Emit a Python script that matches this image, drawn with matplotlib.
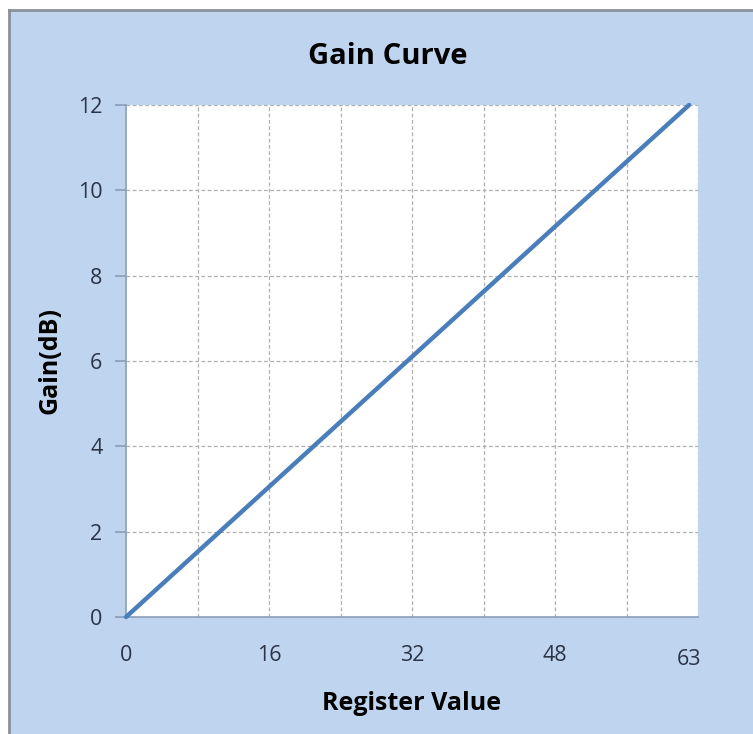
import matplotlib.pyplot as plt
from matplotlib.patches import Rectangle

# register setting vs. gain (dB)
register = [0, 16, 32, 48, 63]
gain = [0, 3.05, 6.1, 9.15, 12]
xtick_labels = ['0', '16', '32', '48', '63']

plt.rcParams['font.family'] = ['Open Sans', 'DejaVu Sans']

panel_col = '#BFD4EE'
axis_col = '#8A9DB8'
text_col = '#2B3346'

fig = plt.figure(figsize=(7.53, 7.34), dpi=100)
fig.patch.set_facecolor('white')

# blue chart panel with grey border on top/left
fig.patches.append(Rectangle((9 / 753, 0), 1, 1 - 10 / 734, transform=fig.transFigure,
                             facecolor=panel_col, edgecolor='none', zorder=-10))
fig.lines.append(plt.Line2D([9 / 753, 9 / 753], [0, 1 - 10 / 734], transform=fig.transFigure,
                            color='#8C9099', lw=2, zorder=-9))
fig.lines.append(plt.Line2D([9 / 753, 1], [1 - 10 / 734, 1 - 10 / 734], transform=fig.transFigure,
                            color='#8C9099', lw=2, zorder=-9))

ax = fig.add_axes([126 / 753, 117 / 734, 572 / 753, 512 / 734])
ax.set_facecolor('white')

ax.plot(register, gain, color='#4A7EBB', lw=3.2, solid_capstyle='round', zorder=3, clip_on=False)

ax.set_xlim(0, 64)
ax.set_ylim(0, 12)
ax.set_xticks([0, 16, 32, 48, 63], labels=xtick_labels)
ax.set_yticks(range(0, 13, 2))

# dashed grid every 8 counts / 2 dB
for xv in range(8, 65, 8):
    ax.axvline(xv, color='#B0B0B0', lw=0.9, ls=(0, (3, 2)), zorder=1)
for yv in range(2, 13, 2):
    ax.axhline(yv, color='#B0B0B0', lw=0.9, ls=(0, (3, 2)), zorder=1)

for s in ['top', 'right']:
    ax.spines[s].set_visible(False)
for s in ['left', 'bottom']:
    ax.spines[s].set_color(axis_col)
    ax.spines[s].set_linewidth(1.2)

ax.tick_params(axis='y', direction='out', length=8, width=1.2, color=axis_col,
               labelsize=15.5, labelcolor=text_col, pad=9)
ax.tick_params(axis='x', length=0, labelsize=15.5, labelcolor=text_col, pad=20)
ax.get_xticklabels()[-1].set_y(-0.008)

fig.text(388 / 753, 1 - 57 / 734, 'Gain Curve', ha='center', va='center',
         fontsize=21, fontweight='bold', color='black')
fig.text(412 / 753, 1 - 703 / 734, 'Register Value', ha='center', va='center',
         fontsize=18, fontweight='bold', color='black')
fig.text(50 / 753, 1 - 360 / 734, 'Gain(dB)', ha='center', va='center', rotation=90,
         fontsize=18, fontweight='bold', color='black')

fig.savefig('out.png', dpi=100, facecolor=fig.get_facecolor())
